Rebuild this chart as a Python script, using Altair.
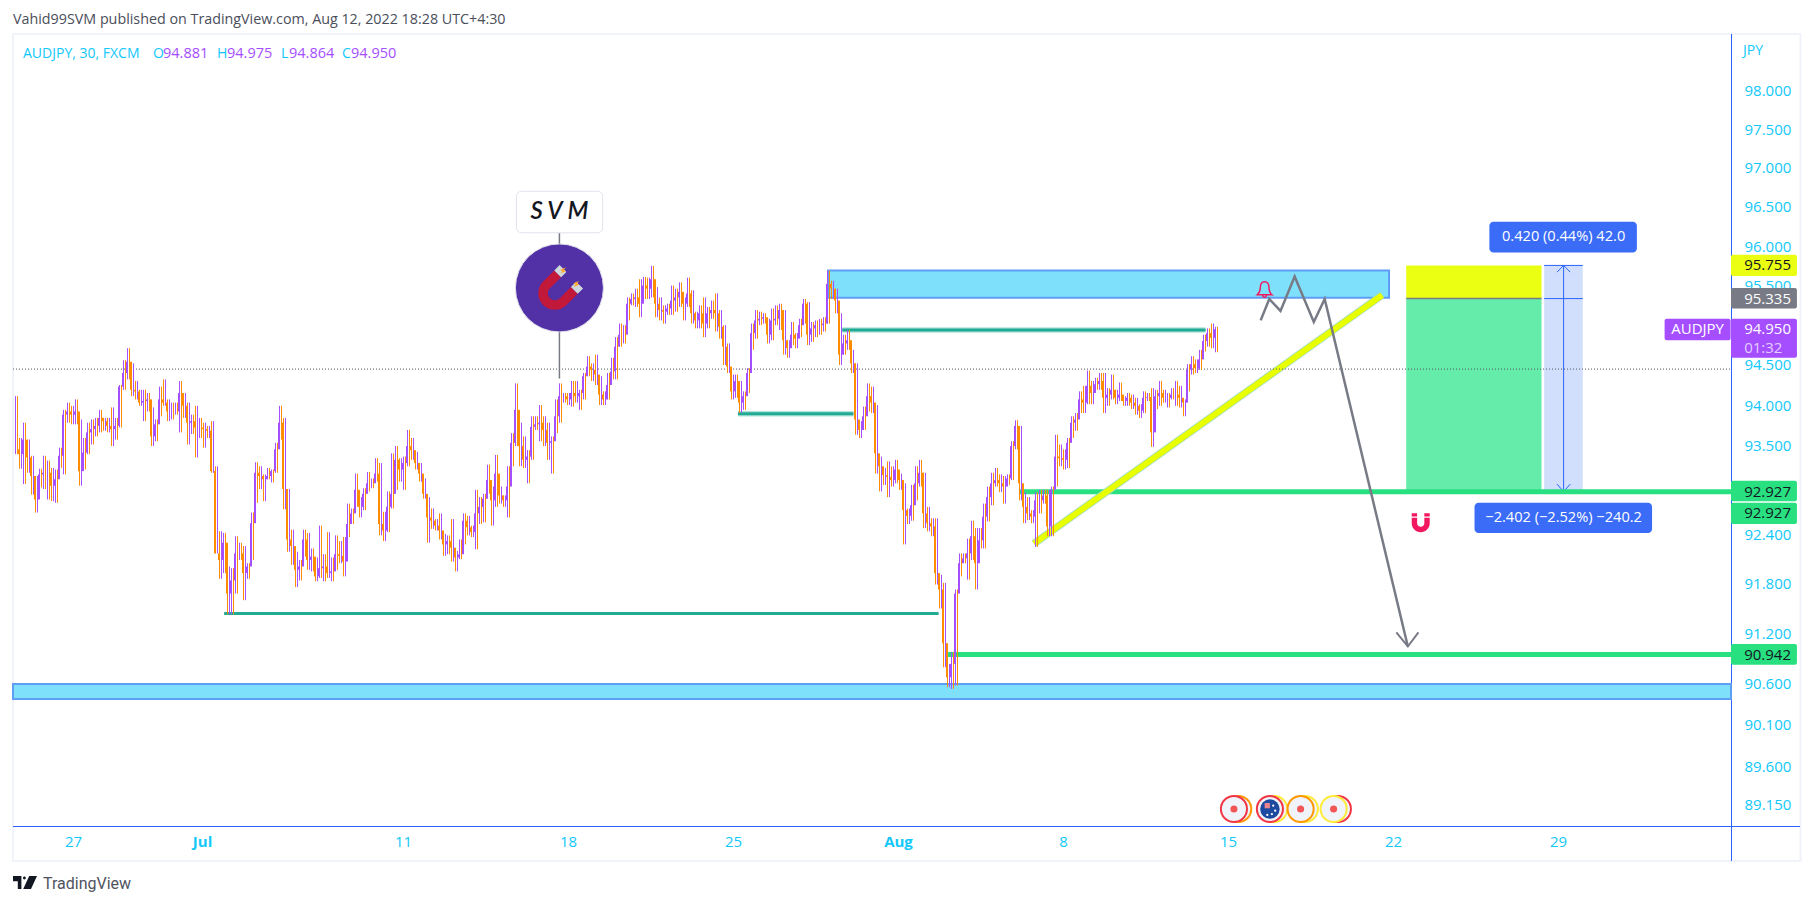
import altair as alt
import pandas as pd

# (high, low, close), one row for each stretch of about six 30-minute bars
bars_a = [(94.11,93.39,93.45),(93.59,93.21,93.39),(93.78,93.02,93.57),(93.57,93.16,93.35),(93.37,92.89,93.12),
(93.12,92.67,92.83),(93.21,92.98,93.14),(93.37,92.96,93.16),(93.31,92.83,93.16),(93.22,92.81,93.00),
(93.20,92.79,93.08),(93.47,93.22,93.37),(93.94,93.14,93.88),(94.03,93.78,93.92),(93.99,93.76,93.88),
(94.07,93.76,93.92),(93.82,93.00,93.18),(93.59,93.20,93.41),(93.78,93.39,93.66),(93.82,93.51,93.70),
(93.84,93.61,93.74),(93.94,93.66,93.84),(93.84,93.68,93.80),(93.84,93.66,93.74),(93.97,93.49,93.70),
(93.84,93.57,93.74),(94.25,93.72,94.23),(94.56,94.19,94.40),(94.71,94.32,94.54),(94.52,94.11,94.19),
(94.30,94.07,94.17),(94.19,93.99,94.03),(94.19,93.80,94.05),(94.15,93.92,94.07),(93.97,93.49,93.61),
(93.82,93.55,93.76),(94.23,93.86,94.07),(94.32,93.99,94.03),(94.07,93.80,93.92),(94.03,93.82,93.92),
(94.03,93.88,93.92),(94.30,93.66,94.15),(94.15,93.84,93.99),(94.03,93.51,93.78),(93.88,93.64,93.80),
(93.99,93.35,93.72),(93.84,93.59,93.72),(93.78,93.47,93.70),(93.74,93.59,93.68),(93.80,93.16,93.18),
(93.24,92.17,92.17),(92.44,91.86,92.09),(92.42,91.93,92.30),(92.01,91.43,91.68),(91.99,91.43,91.84),
(92.38,91.68,92.17),(92.30,92.09,92.17),(92.26,91.60,91.93),(92.05,91.86,92.01),(92.67,92.09,92.54),
(93.29,92.79,93.16),(93.24,92.96,93.12),(93.14,92.81,93.08),(93.22,93.08,93.12),(93.20,93.04,93.18),
(93.53,93.16,93.45),(93.99,93.57,93.78),(93.84,92.71,92.96),(92.96,92.19,92.34),(92.46,92.03,92.26),
(92.19,91.76,91.97),(92.09,91.84,92.01),(92.46,92.13,92.34),(92.42,91.97,92.09),(92.23,91.95,92.13)]
bars_b = [(92.12,91.83,91.89),(92.51,91.87,91.99),(92.16,91.83,92.01),(92.43,91.87,91.93),(92.12,91.83,91.95),
(92.39,91.97,92.16),(92.32,92.05,92.14),(92.37,91.89,92.07),(92.78,92.37,92.53),(92.72,92.53,92.66),
(93.15,92.74,92.95),(92.86,92.61,92.74),(92.97,92.70,92.90),(93.17,92.93,93.03),(93.09,92.97,93.03),
(93.34,93.05,93.15),(93.28,92.39,92.53),(92.68,92.32,92.45),(92.93,92.43,92.74),(93.40,92.72,92.90),
(93.49,92.95,93.32),(93.34,93.05,93.20),(93.36,92.95,93.28),(93.69,93.24,93.49),(93.59,93.32,93.44),
(93.42,93.20,93.28),(93.28,93.05,93.15),(93.09,92.84,92.90),(92.86,92.30,92.61),(92.72,92.47,92.57),
(92.59,92.45,92.51),(92.66,92.34,92.45),(92.41,92.14,92.28),(92.39,92.16,92.32),(92.59,92.07,92.24),
(92.20,91.95,92.12),(92.34,92.10,92.16),(92.66,92.28,92.57),(92.63,92.39,92.49),(92.51,92.37,92.43),
(92.95,92.22,92.66),(92.86,92.53,92.74),(92.90,92.55,92.84),(93.26,92.90,93.07),(92.99,92.51,92.82),
(93.38,92.74,93.15),(92.99,92.78,92.88),(92.88,92.74,92.82),(93.24,92.61,92.99),(93.65,93.24,93.53),
(94.27,93.49,93.94),(93.78,93.24,93.49),(93.61,93.22,93.32),(93.44,93.03,93.36),(93.86,93.32,93.73),
(93.86,93.69,93.76),(94.00,93.55,93.78),(93.86,93.49,93.69),(93.78,93.32,93.53),(93.61,93.15,93.55),
(94.07,93.65,93.86),(94.27,93.78,94.11),(94.15,94.03,94.11),(94.15,94.00,94.07),(94.30,93.98,94.15),
(94.30,94.03,94.11),(94.19,93.94,94.15),(94.40,94.07,94.36),(94.61,94.36,94.48),(94.52,94.30,94.44),
(94.63,94.25,94.38),(94.36,94.00,94.13),(94.17,94.00,94.07),(94.40,94.07,94.25),(94.59,94.32,94.42)]
bars_c = [(94.85,94.32,94.73),(95.02,94.73,94.88),(95.00,94.77,94.88),(95.35,95.06,95.27),(95.40,95.25,95.33),
(95.46,95.23,95.35),(95.58,95.10,95.27),(95.61,95.33,95.50),(95.60,95.33,95.46),(95.75,95.35,95.58),
(95.48,95.10,95.27),(95.35,95.06,95.19),(95.25,95.02,95.17),(95.27,95.13,95.21),(95.50,95.13,95.31),
(95.46,95.17,95.35),(95.54,95.23,95.42),(95.35,95.06,95.27),(95.60,95.23,95.40),(95.44,95.02,95.15),
(95.17,94.96,95.06),(95.25,94.96,95.15),(95.35,94.85,95.02),(95.23,94.96,95.15),(95.31,95.08,95.19),
(95.40,94.92,95.15),(95.19,94.83,94.98),(95.00,94.50,94.73),(94.77,94.40,94.48),(94.38,94.07,94.17),
(94.38,94.09,94.30),(94.30,93.90,94.03),(94.17,93.94,94.11),(94.46,94.15,94.40),(95.02,94.69,94.90),
(95.19,94.83,95.06),(95.17,95.00,95.08),(95.15,95.02,95.10),(95.08,94.77,94.88),(95.21,94.81,95.06),
(95.25,95.00,95.08),(95.27,94.94,95.19),(95.19,94.63,94.81),(94.81,94.59,94.71),(95.04,94.75,94.88),
(94.90,94.71,94.83),(95.08,94.85,95.00),(95.33,95.02,95.27),(95.29,94.75,94.88),(95.04,94.79,94.96),
(95.06,94.85,95.00),(95.08,94.88,95.00),(95.10,94.92,95.02),(95.69,95.02,95.52),(95.56,95.33,95.46),
(95.46,95.15,95.31),(95.15,94.50,94.63),(94.88,94.63,94.77),(94.94,94.69,94.81),(94.69,94.40,94.52),
(94.52,93.63,93.82),(93.80,93.59,93.69),(93.98,93.69,93.86),(94.27,93.92,94.11),(94.23,93.90,94.03),
(94.00,93.15,93.40),(93.36,92.93,93.24),(93.22,93.01,93.13),(93.30,92.86,93.11),(93.24,92.99,93.07),
(93.32,93.03,93.20),(93.15,92.95,93.07),(93.03,92.28,92.70),(92.72,92.53,92.63),(93.01,92.57,92.76)]
bars_d = [(93.24,92.82,93.03),(93.32,92.99,93.16),(93.16,92.48,92.66),(92.74,92.44,92.54),(92.60,92.38,92.50),
(92.60,91.79,91.93),(91.91,91.50,91.73),(91.81,90.79,91.08),(90.83,90.55,90.67),(90.97,90.53,90.83),
(91.73,90.57,91.68),(92.17,91.89,92.05),(92.17,92.05,92.11),(92.35,91.85,92.17),(92.57,92.09,92.38),
(92.48,91.73,92.05),(92.48,92.23,92.33),(92.78,92.23,92.62),(92.99,92.56,92.86),(93.16,92.76,93.03),
(93.22,92.99,93.07),(93.14,92.92,93.03),(93.12,92.78,92.99),(93.14,93.01,93.09),(93.55,93.07,93.49),
(93.81,93.45,93.74),(93.74,92.82,93.03),(92.92,92.54,92.74),(92.86,92.58,92.66),(92.70,92.54,92.62),
(92.92,92.25,92.82),(92.95,92.66,92.82),(92.95,92.78,92.88),(92.95,92.38,92.50),(92.99,92.38,92.95),
(93.63,92.99,93.36),(93.51,93.24,93.34),(93.45,93.20,93.32),(93.59,93.22,93.53),(93.86,93.59,93.78),
(93.90,93.68,93.82),(94.17,93.90,94.07),(94.24,93.90,94.03),(94.43,94.01,94.24),(94.30,94.01,94.15),
(94.34,94.19,94.26),(94.40,94.19,94.30),(94.40,93.90,94.09),(94.21,93.99,94.13),(94.38,94.07,94.19),
(94.19,94.01,94.09),(94.28,94.05,94.13),(94.11,93.99,94.05),(94.15,93.99,94.09),(94.13,93.95,94.03),
(94.09,93.88,93.99),(94.01,93.84,93.93),(94.17,93.90,94.09),(94.15,94.05,94.10),(94.21,93.48,93.66),
(94.19,93.95,94.11),(94.30,93.99,94.15),(94.19,94.03,94.09),(94.15,93.97,94.09),(94.21,94.07,94.13),
(94.30,93.99,94.13),(94.24,93.97,94.09),(94.07,93.86,94.03),(94.51,94.17,94.44),(94.61,94.38,94.51),
(94.57,94.40,94.46),(94.69,94.44,94.57),(94.88,94.67,94.80),(94.96,94.73,94.90),(95.02,94.71,94.84),
(94.98,94.66,94.95)]

tick_days = [0, 3.91, 10, 15, 20, 25, 30, 35, 40, 45]
tick_labels = ["27", "Jul", "11", "18", "25", "Aug", "8", "15", "22", "29"]
bold_ticks = ["Jul", "Aug"]
price_ticks = [98, 97.5, 97, 96.5, 96, 95.5, 95, 94.5, 94, 93.5, 93, 92.4, 91.8, 91.2, 90.6, 90.1, 89.6, 89.15]

FIRST_DAY = -1.7424
DAY_STEP = 4 / 33
DAY_MIN, DAY_MAX = -1.818, 50.242
PRICE_MIN, PRICE_MAX = 88.90, 98.75
LAST_PRICE = 94.449

CYAN = "#12c8fa"
BLUE = "#2962ff"
UP = "#a54eff"
DOWN = "#ff8c00"
GREEN = "#28e080"
TEAL = "#22ab94"
FONT = "Open Sans"
W, H = 1718, 793

rows = []
prev = bars_a[0][2]
for i, (h, l, c) in enumerate(bars_a + bars_b + bars_c + bars_d):
    up = c >= prev
    rows.append(dict(day=FIRST_DAY + i * DAY_STEP, side=FIRST_DAY + (i + 0.5) * DAY_STEP,
                     body=FIRST_DAY + (i - 0.125) * DAY_STEP,
                     high=h, low=l, open=prev, close=c,
                     dir="up" if up else "down", other="down" if up else "up"))
    prev = c
candles = pd.DataFrame(rows)

labelexpr = "".join(f"datum.value=={d}?'{t}':" for d, t in zip(tick_days, tick_labels)) + "''"
boldtest = "||".join(f"datum.value=={d}" for d, t in zip(tick_days, tick_labels) if t in bold_ticks)
x_axis = alt.Axis(orient="bottom", values=tick_days, labelExpr=labelexpr, title=None, grid=False, ticks=False,
                  domainColor=BLUE, domainWidth=1, labelColor=CYAN, labelFont=FONT, labelFontSize=15,
                  labelPadding=8, labelFlush=False, labelOverlap=False,
                  labelFontWeight={"condition": {"test": boldtest, "value": "bold"}, "value": "normal"})
y_axis = alt.Axis(orient="right", values=price_ticks, format=".3f", title=None, grid=False, ticks=False,
                  domainColor=BLUE, domainWidth=1, labelColor=CYAN, labelFont=FONT, labelFontSize=15,
                  labelPadding=13, labelOverlap=False, labelFlush=False)
xs = alt.Scale(domain=[DAY_MIN, DAY_MAX], nice=False, zero=False)
ys = alt.Scale(type="log", domain=[PRICE_MIN, PRICE_MAX], nice=False)
def X(f, **k): return alt.X(f + ":Q", scale=xs, axis=x_axis, **k)
def Y(f, **k): return alt.Y(f + ":Q", scale=ys, axis=y_axis, **k)
one = pd.DataFrame({"a": [0]})

def segs(x0, x1, y0, y1):
    return pd.DataFrame(dict(x0=x0, x1=x1, y0=y0, y1=y1))

def rule(x0, x1, y0, y1, color, width, **kw):
    return alt.Chart(segs(x0, x1, y0, y1)).mark_rule(color=color, strokeWidth=width, **kw).encode(
        x=X("x0"), x2="x1:Q", y=Y("y0"), y2="y1:Q")

def rect(x0, x1, y0, y1, fill, **kw):
    return alt.Chart(segs([x0], [x1], [y0], [y1])).mark_rect(fill=fill, **kw).encode(
        x=X("x0"), x2="x1:Q", y=Y("y0"), y2="y1:Q")

def poly(days, prices, color, width):
    return alt.Chart(pd.DataFrame(dict(d=days, p=prices))).mark_line(
        color=color, strokeWidth=width, strokeJoin="miter", clip=False).encode(x=X("d"), y=Y("p"))

def txt(day, price, s, color, size=15, align="center", weight="normal", font=FONT, **kw):
    return alt.Chart(pd.DataFrame(dict(d=[day], p=[price], t=[s]))).mark_text(
        align=align, baseline="middle", color=color, fontSize=size, fontWeight=weight, font=font, **kw
    ).encode(x=X("d"), y=Y("p"), text="t:N")

def ptxt(px, py, s, color, size=14, weight="normal", font=FONT, **kw):
    return alt.Chart(one).mark_text(align="left", baseline="middle", color=color, fontSize=size,
                                    fontWeight=weight, font=font, **kw).encode(
        x=alt.value(px - 13), y=alt.value(py - 33), text=alt.value(s))

def sym(day, price, shape, size, fill=None, stroke=None, sw=0, **kw):
    opts = dict(shape=shape, size=size, opacity=1, filled=fill is not None)
    if fill is not None:
        opts["fill"] = fill
    if stroke is not None:
        opts["stroke"] = stroke
        opts["strokeWidth"] = sw
    opts.update(kw)
    return alt.Chart(pd.DataFrame(dict(d=[day], p=[price]))).mark_point(**opts).encode(x=X("d"), y=Y("p"))

# page chrome
frame = alt.Chart(one).mark_rect(fill="transparent", stroke="#f0f3fa", strokeWidth=2).encode(
    x=alt.value(0), x2=alt.value(1787.5), y=alt.value(1), y2=alt.value(828))
vline = alt.Chart(one).mark_rule(color=BLUE, strokeWidth=1).encode(
    x=alt.value(W + 0.5), y=alt.value(1), y2=alt.value(828))
hline = alt.Chart(one).mark_rule(color=BLUE, strokeWidth=1).encode(
    x=alt.value(0), x2=alt.value(1787), y=alt.value(H + 0.5))

# drawings under the candles
zones = (
    rect(22.88, 39.88, 95.691, 95.345, "#7fe0fb", stroke="#5f9ef5", strokeWidth=2)
    + rect(DAY_MIN, DAY_MAX, 90.59, 90.41, "#7fe0fb", stroke="#5f9ef5", strokeWidth=2)
)
position = (
    rect(40.40, 44.50, 95.755, 95.335, "#eaff12")
    + rect(40.40, 44.50, 95.335, 92.927, "#66ecaa")
    + rule([40.40], [44.50], [95.335], [95.335], "#787b86", 1.5)
)
measure = (
    rect(44.58, 45.75, 95.755, 92.927, "#d2dffc")
    + rule([44.58, 44.58, 44.58, 45.17], [45.75, 45.75, 45.75, 45.17],
           [95.755, 95.335, 92.927, 95.755], [95.755, 95.335, 92.927, 92.927], BLUE, 1)
    + poly([44.97, 45.17, 45.37], [95.67, 95.755, 95.67], BLUE, 1)
    + poly([44.97, 45.17, 45.37], [93.02, 92.927, 93.02], BLUE, 1)
)
halos = rule([20.15, 23.31], [23.65, 34.32], [93.89, 94.94], [93.89, 94.94], TEAL, 5.5, opacity=0.35)
teal = rule([4.58, 20.15, 23.31], [26.23, 23.65, 34.32], [91.44, 93.89, 94.94], [91.44, 93.89, 94.94], TEAL, 3)
green = rule([28.68, 26.48], [DAY_MAX, DAY_MAX], [92.927, 90.942], [92.927, 90.942], GREEN, 5)
yellow = (
    rule([29.12], [39.67], [92.29], [95.38], "#9fdcb8", 7.5)
    + rule([29.12], [39.67], [92.29], [95.38], "#e8ff00", 5.8)
)
dotted = rule([DAY_MIN], [DAY_MAX], [LAST_PRICE], [LAST_PRICE], "#50535e", 1, strokeDash=[1, 2])

# candles
color = alt.Color("dir:N", scale=alt.Scale(domain=["up", "down"], range=[UP, DOWN]), legend=None)
other = alt.Color("other:N", scale=alt.Scale(domain=["up", "down"], range=[UP, DOWN]), legend=None)
side_wicks = alt.Chart(candles).mark_rule(strokeWidth=1).encode(x=X("side"), y=Y("low"), y2="high:Q", color=other)
wicks = alt.Chart(candles).mark_rule(strokeWidth=1).encode(x=X("day"), y=Y("low"), y2="high:Q", color=color)
bodies = alt.Chart(candles).mark_rule(strokeWidth=2).encode(x=X("body"), y=Y("open"), y2="close:Q", color=color)

# gray projected path
path = (
    poly([35.99, 36.25, 36.59, 37.02, 37.60, 37.93, 40.45],
         [95.06, 95.33, 95.18, 95.615, 95.04, 95.33, 91.04], "#787b86", 2.5)
    + poly([40.10, 40.45, 40.77], [91.21, 91.04, 91.21], "#787b86", 2)
)

# SVM card and medallion
MAGNET = "M-1,-0.9H-0.42V0.05A0.42,0.42 0 0 0 0.42,0.05V-0.9H1V0.05A1,1 0 0 1 -1,0.05Z"
MAGNET_TIPS = "M-1,-1.35H-0.42V-0.9H-1Z M0.42,-1.35H1V-0.9H0.42Z"
BOLT = "M0.3,-1L-0.7,0.2H-0.1L-0.3,1L0.7,-0.2H0.1Z"
svm = (
    rule([14.74], [14.74], [96.17], [94.33], "#787b86", 1.5)
    + rect(13.44, 16.05, 96.70, 96.17, "white", stroke="#e0e3eb", strokeWidth=1, cornerRadius=5)
    + txt(14.74, 96.43, "S V M", "#131722", size=24, weight=600, font="Lato", fontStyle="italic")
    + sym(14.74, 95.47, "circle", 7744, fill="#5230a6", stroke="#dfe0e8", sw=1)
    + sym(14.62, 95.41, MAGNET, 1100, fill="#c2183a", angle=45)
    + sym(14.62, 95.41, MAGNET_TIPS, 1100, fill="#cfd8dc", angle=45)
    + sym(14.85, 95.69, BOLT, 70, fill="#ffa726", angle=25)
    + sym(15.25, 95.52, BOLT, 70, fill="#ffa726", angle=25)
)

# icons
PINK = "#f2185f"
U_ICON = "M-1,-1H-0.4V-0.65H-1Z M0.4,-1H1V-0.65H0.4Z M-1,-0.5H-0.4V0.1A0.4,0.4 0 0 0 0.4,0.1V-0.5H1V0.1A1,1 0 0 1 -1,0.1Z"
BELL = ("M0,-0.9C-0.45,-0.9 -0.5,-0.5 -0.5,-0.2C-0.5,0.2 -0.6,0.4 -0.85,0.6H0.85C0.6,0.4 0.5,0.2 0.5,-0.2"
        "C0.5,-0.5 0.45,-0.9 0,-0.9Z M-0.22,0.6A0.22,0.3 0 0 0 0.22,0.6")
icons = (
    sym(40.84, 92.55, U_ICON, 324, fill=PINK)
    + sym(36.11, 95.45, BELL, 300, stroke=PINK, sw=1.4)
)

event_days = [35.18, 36.27, 37.20, 38.20]
event_front = ["#f23645", "#f23645", "#ff9800", "#ffeb3b"]
event_back = ["#ff9800", "#ffeb3b", "#ffeb3b", "#f23645"]
EVENT_PRICE = 89.10
events = None
for d, f, b in zip(event_days, event_front, event_back):
    pair = (sym(d + 0.13, EVENT_PRICE, "circle", 680, fill="#f0f3fa", stroke=b, sw=2)
            + sym(d, EVENT_PRICE, "circle", 680, fill="#f0f3fa", stroke=f, sw=2))
    events = pair if events is None else events + pair
for d in [event_days[0], event_days[2], event_days[3]]:
    events = events + sym(d, EVENT_PRICE, "circle", 50, fill="#f25555")
events = events + sym(event_days[1], EVENT_PRICE, "circle", 380, fill="#1d4aa0")
events = events + sym(event_days[1] - 0.08, EVENT_PRICE + 0.04, "square", 28, fill="#e9838e")
for dd, pp in [(0.1, 89.14), (0.16, 89.08), (0.06, 89.04), (-0.08, 89.03)]:
    events = events + sym(event_days[1] + dd, pp, "circle", 5, fill="white")

# measurement captions
captions = (
    rect(42.92, 47.39, 96.31, 95.92, "#3a6cf8", cornerRadius=4)
    + txt(45.17, 96.115, "0.420 (0.44%) 42.0", "white", size=14.6)
    + rect(42.47, 47.85, 92.79, 92.42, "#3a6cf8", cornerRadius=4)
    + txt(45.17, 92.60, "\u22122.402 (\u22122.52%) \u2212240.2", "white", size=14.6)
)

# price tags
TAG0, TAG1 = DAY_MAX, 52.24
TAGX = 50.64
tags = (
    rect(TAG0, TAG1, 95.89, 95.62, "#eaff12", cornerRadius=2)
    + txt(TAGX, 95.755, "95.755", "#131722", align="left")
    + rect(TAG0, TAG1, 95.47, 95.21, "#787b86", cornerRadius=2)
    + txt(TAGX, 95.335, "95.335", "white", align="left")
    + rect(48.23, 50.23, 95.08, 94.81, UP, cornerRadius=2)
    + txt(49.23, 94.95, "AUDJPY", "white")
    + rect(TAG0, TAG1, 95.08, 94.59, UP, cornerRadius=2)
    + txt(TAGX, 94.95, "94.950", "white", align="left")
    + txt(TAGX, 94.71, "01:32", "#e4ccff", align="left")
    + rect(TAG0, TAG1, 93.06, 92.81, GREEN, cornerRadius=2)
    + txt(TAGX, 92.927, "92.927", "#131722", align="left")
    + rect(TAG0, TAG1, 92.79, 92.53, GREEN, cornerRadius=2)
    + txt(TAGX, 92.66, "92.927", "#131722", align="left")
    + rect(TAG0, TAG1, 91.07, 90.82, GREEN, cornerRadius=2)
    + txt(TAGX, 90.942, "90.942", "#131722", align="left")
)

# texts around the chart
LOGO = "M-1,-0.54H-0.3V0.54H-0.6V-0.1H-1Z M-0.17,-0.38A0.12,0.12 0 1 0 0.07,-0.38A0.12,0.12 0 1 0 -0.17,-0.38Z M0.35,-0.54H1L0.5,0.54H-0.15Z"
logo = alt.Chart(one).mark_point(shape=LOGO, size=576, filled=True, fill="#131722", opacity=1).encode(
    x=alt.value(12), y=alt.value(849.5))
texts = (
    ptxt(13, 19.5, "Vahid99SVM published on TradingView.com, Aug 12, 2022 18:28 UTC+4:30", "#4a4e5a", size=14.3)
    + ptxt(23, 53.5, "AUDJPY, 30, FXCM", CYAN, size=14)
    + ptxt(153, 53.5, "O", CYAN) + ptxt(163, 53.5, "94.881", UP, size=14.5)
    + ptxt(217, 53.5, "H", CYAN) + ptxt(227, 53.5, "94.975", UP, size=14.5)
    + ptxt(281, 53.5, "L", CYAN) + ptxt(289, 53.5, "94.864", UP, size=14.5)
    + ptxt(342, 53.5, "C", CYAN) + ptxt(351, 53.5, "94.950", UP, size=14.5)
    + ptxt(1743, 50.5, "JPY", CYAN)
    + ptxt(43, 883.5, "TradingView", "#50535e", size=16, font="Roboto")
    + logo
)

chart = alt.layer(
    frame, hline, vline, zones, position, measure, halos, teal, green, yellow, dotted,
    side_wicks, wicks, bodies, path, svm, icons, events, captions, tags, texts
).properties(
    width=W, height=H,
    padding={"left": 5, "top": 25, "right": 75, "bottom": 70},
    autosize=alt.AutoSizeParams(type="none"),
    background="white",
).configure_view(stroke=None)

chart.save("out.html", embed_options={"renderer": "svg", "actions": False})
